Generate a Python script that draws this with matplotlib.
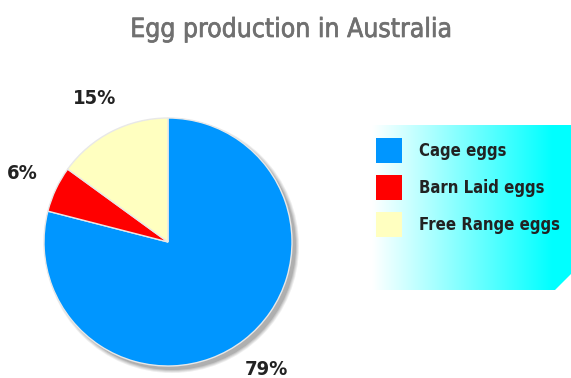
import numpy as np
import matplotlib.pyplot as plt
import matplotlib.patheffects as pe
from matplotlib.patches import Circle, Polygon

labels = ['Cage eggs', 'Barn Laid eggs', 'Free Range eggs']
shares = [79, 6, 15]
colors = ['#0096ff', '#ff0000', '#ffffc0']

plt.rcParams['font.family'] = ['DejaVu Sans']
plt.rcParams['font.stretch'] = 'condensed'

fig = plt.figure(figsize=(5.71, 3.78), dpi=100)
ax = fig.add_axes([0, 0, 1, 1])
ax.set_xlim(0, 571)
ax.set_ylim(0, 378)
ax.set_aspect('equal')
ax.axis('off')

cx, cy, r = 168, 136, 124

# soft drop shadow under the pie
for i, a in enumerate([0.10, 0.12, 0.15, 0.2]):
    ax.add_patch(Circle((cx + 4, cy - 4), r + 3 - i, color='#555555', alpha=a, lw=0, zorder=0))

wedges, texts, autotexts = ax.pie(
    shares, colors=colors, startangle=90, counterclock=False,
    center=(cx, cy), radius=r, autopct='%.0f%%', pctdistance=1.3,
    wedgeprops=dict(edgecolor='#e8e8e8', linewidth=1),
    textprops=dict(fontsize=14.5, color='#222222', fontweight='bold'))
ax.set_xlim(0, 571)
ax.set_ylim(0, 378)

# legend background with gradient and cut corner
x0, x1, y0, y1 = 372, 571, 378 - 290, 378 - 125
grad = np.linspace(0, 1, 256)
grad = np.clip(grad * 1.1, 0, 1)
img = np.ones((1, 256, 3))
img[0, :, 0] = 1 - grad
im = ax.imshow(img, extent=(x0, x1, y0, y1), aspect='auto', zorder=1)
clip = Polygon([(x0, y0), (555, y0), (x1, y0 + 16), (x1, y1), (x0, y1)],
               closed=True, transform=ax.transData)
im.set_clip_path(clip)
ax.set_xlim(0, 571)
ax.set_ylim(0, 378)

leg = ax.legend(wedges, labels, loc='upper left',
                bbox_to_anchor=(372.5 / 571, 1 - 134.5 / 378), frameon=False,
                fontsize=12, handlelength=1.56, handleheight=1.93,
                handletextpad=1.05, labelspacing=0.72, borderpad=0.2,
                borderaxespad=0)
for t in leg.get_texts():
    t.set_color('#222222')
    t.set_fontweight('bold')
for h in leg.legend_handles:
    h.set_edgecolor('none')

fig.text(291 / 571, 1 - 30 / 378, 'Egg production in Australia', ha='center', va='center',
         fontsize=19, color='#707070',
         path_effects=[pe.withStroke(linewidth=0.5, foreground='#707070')])

fig.savefig('out.png', dpi=100)
